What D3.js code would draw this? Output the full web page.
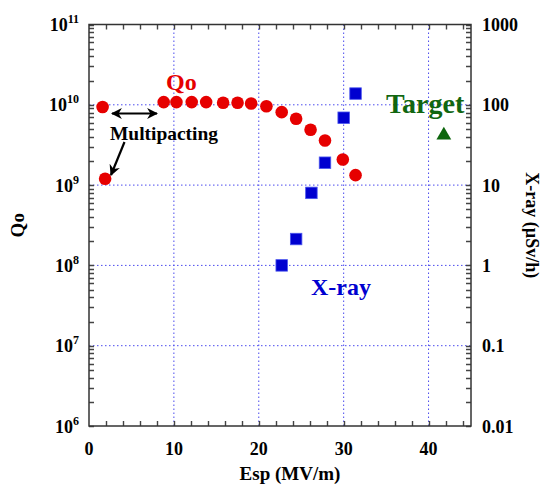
<!DOCTYPE html>
<html>
<head>
<meta charset="utf-8">
<script src="https://cdn.jsdelivr.net/npm/d3@7"></script>
<style>
  html, body { margin: 0; padding: 0; background: #fff; }
</style>
</head>
<body>
<svg id="chart" width="547" height="486" xmlns="http://www.w3.org/2000/svg"></svg>
<script>
// Quality factor Qo vs peak surface field
const qoField = [1.6, 1.9, 8.8, 10.3, 12.1, 13.8, 15.8, 17.5, 19.1, 20.9, 22.7, 24.4, 26.1, 27.8, 29.9, 31.4];
const qoValues = [9.4e9, 1.2e9, 1.08e10, 1.08e10, 1.08e10, 1.08e10, 1.06e10, 1.06e10, 1.04e10, 9.6e9, 8.1e9, 6.7e9, 4.9e9, 3.6e9, 2.08e9, 1.33e9];

// X-ray dose rate (µSv/h) vs peak surface field
const xrayField = [22.7, 24.4, 26.2, 27.8, 30.0, 31.4];
const xrayValues = [1.0, 2.13, 8.0, 19, 69, 138];

// Design target
const targetField = [41.8];
const targetValues = [43];

// Tick labels
const xTicks = [0, 10, 20, 30, 40];
const qoTickExp = [6, 7, 8, 9, 10, 11];
const xrayTickLabels = ["0.01", "0.1", "1", "10", "100", "1000"];

const FONT = "'Liberation Serif', 'Times New Roman', Tinos, 'DejaVu Serif', serif";

const svg = d3.select("#chart")
  .attr("font-family", FONT).attr("font-weight", "bold");
const L = 89, R = 471, T = 24.5, B = 426;

const x = d3.scaleLinear().domain([0, 45]).range([L, R]);
const yQ = d3.scaleLog().domain([1e6, 1e11]).range([B, T]);
const yX = d3.scaleLog().domain([0.01, 1000]).range([B, T]);

function txt(sel) {
  return sel.append("text").style("font-family", FONT).style("font-weight", "bold");
}

// Grid lines
const grid = svg.append("g")
  .attr("stroke", "#4a4aee").attr("stroke-width", 1).attr("stroke-dasharray", "1.5,2.5");
grid.selectAll("line.gx").data([10, 20, 30, 40]).join("line").attr("class", "gx")
  .attr("x1", d => x(d)).attr("x2", d => x(d)).attr("y1", T).attr("y2", B);
grid.selectAll("line.gy").data([1e7, 1e8, 1e9, 1e10]).join("line").attr("class", "gy")
  .attr("y1", d => yQ(d)).attr("y2", d => yQ(d)).attr("x1", L).attr("x2", R);

// Inward ticks on all four sides
const axisColor = "#333";
const xMinor = d3.range(2, 45, 2);
const qMinor = yQ.ticks(10);
const xrMinor = yX.ticks(10);
const TL = 5;
const tickPath = d3.path();
xMinor.forEach(d => {
  const px = Math.round(x(d)) + 0.5;
  tickPath.moveTo(px, B); tickPath.lineTo(px, B - TL);
  tickPath.moveTo(px, T); tickPath.lineTo(px, T + TL);
});
qMinor.forEach(d => {
  const py = Math.round(yQ(d)) + 0.5;
  tickPath.moveTo(L, py); tickPath.lineTo(L + TL, py);
});
xrMinor.forEach(d => {
  const py = Math.round(yX(d)) + 0.5;
  tickPath.moveTo(R, py); tickPath.lineTo(R - TL, py);
});
svg.append("path").attr("d", tickPath.toString())
  .attr("fill", "none").attr("stroke", "#444").attr("stroke-width", 1.4);

// Frame
svg.append("rect").attr("x", L).attr("y", T).attr("width", R - L).attr("height", B - T)
  .attr("fill", "none").attr("stroke", axisColor).attr("stroke-width", 1.5);

// Bottom tick labels
const bl = svg.append("g");
xTicks.forEach(d => {
  txt(bl).attr("x", x(d)).attr("y", B + 29).attr("text-anchor", "middle")
    .attr("font-size", 18).text(d);
});

// Left tick labels 10^n
const lg = svg.append("g");
qoTickExp.forEach(d => {
  const t = txt(lg).attr("x", L - 10).attr("y", yQ(Math.pow(10, d)) + 6.5)
    .attr("text-anchor", "end").attr("font-size", 18);
  t.append("tspan").text("10");
  t.append("tspan").attr("dy", -8).attr("font-size", 12).text(d);
});

// Right tick labels
const rg = svg.append("g");
xrayTickLabels.forEach(d => {
  txt(rg).attr("x", R + 11).attr("y", yX(+d) + 6.5).attr("font-size", 18).text(d);
});

// Axis titles
txt(svg).attr("x", 290).attr("y", 480).attr("text-anchor", "middle")
  .attr("font-size", 19).text("Esp (MV/m)");
txt(svg).attr("transform", `translate(24,${(T + B) / 2}) rotate(-90)`)
  .attr("text-anchor", "middle").attr("font-size", 19).text("Qo");
txt(svg).attr("transform", `translate(526,${(T + B) / 2}) rotate(90)`)
  .attr("text-anchor", "middle").attr("font-size", 18).text("X-ray (µSv/h)");

// Qo points
svg.append("g").selectAll("circle").data(qoField).join("circle")
  .attr("cx", d => x(d)).attr("cy", (d, i) => yQ(qoValues[i])).attr("r", 6.3)
  .attr("fill", "#e60000");

// X-ray points
const sq = 11.5;
svg.append("g").selectAll("rect").data(xrayField).join("rect")
  .attr("x", d => x(d) - sq / 2).attr("y", (d, i) => yX(xrayValues[i]) - sq / 2)
  .attr("width", sq).attr("height", sq).attr("fill", "#0000d0")
  .attr("stroke", "#4a55ee").attr("stroke-width", 0.8);

// Target point
svg.append("g").selectAll("path").data(targetField).join("path")
  .attr("transform", (d, i) => `translate(${x(d)},${yX(targetValues[i]) + 1})`)
  .attr("d", d3.symbol(d3.symbolTriangle, 95)())
  .attr("fill", "#0d660d");

// Series labels
txt(svg).attr("x", 166).attr("y", 90).attr("font-size", 24)
  .attr("fill", "#e60000").text("Qo");
txt(svg).attr("x", 311).attr("y", 295).attr("font-size", 24)
  .attr("fill", "#0000d0").text("X-ray");
txt(svg).attr("x", 386).attr("y", 113).attr("font-size", 28)
  .attr("fill", "#116611").text("Target");

// Multipacting annotation
const defs = svg.append("defs");
defs.append("marker").attr("id", "ah").attr("viewBox", "0 0 10 10")
  .attr("refX", 9).attr("refY", 5).attr("markerWidth", 5).attr("markerHeight", 5)
  .attr("markerUnits", "strokeWidth").attr("orient", "auto-start-reverse")
  .append("path").attr("d", "M0,0 L10,5 L0,10 L3,5 Z").attr("fill", "#000");

svg.append("line").attr("x1", 112).attr("y1", 113.5).attr("x2", 157).attr("y2", 113.5)
  .attr("stroke", "#000").attr("stroke-width", 2.2)
  .attr("marker-start", "url(#ah)").attr("marker-end", "url(#ah)");
svg.append("line").attr("x1", 124.5).attr("y1", 142).attr("x2", 111).attr("y2", 175)
  .attr("stroke", "#000").attr("stroke-width", 2.2)
  .attr("marker-end", "url(#ah)");
txt(svg).attr("x", 110).attr("y", 140).attr("font-size", 19)
  .attr("textLength", 108).attr("lengthAdjust", "spacingAndGlyphs")
  .text("Multipacting");
</script>
</body>
</html>
